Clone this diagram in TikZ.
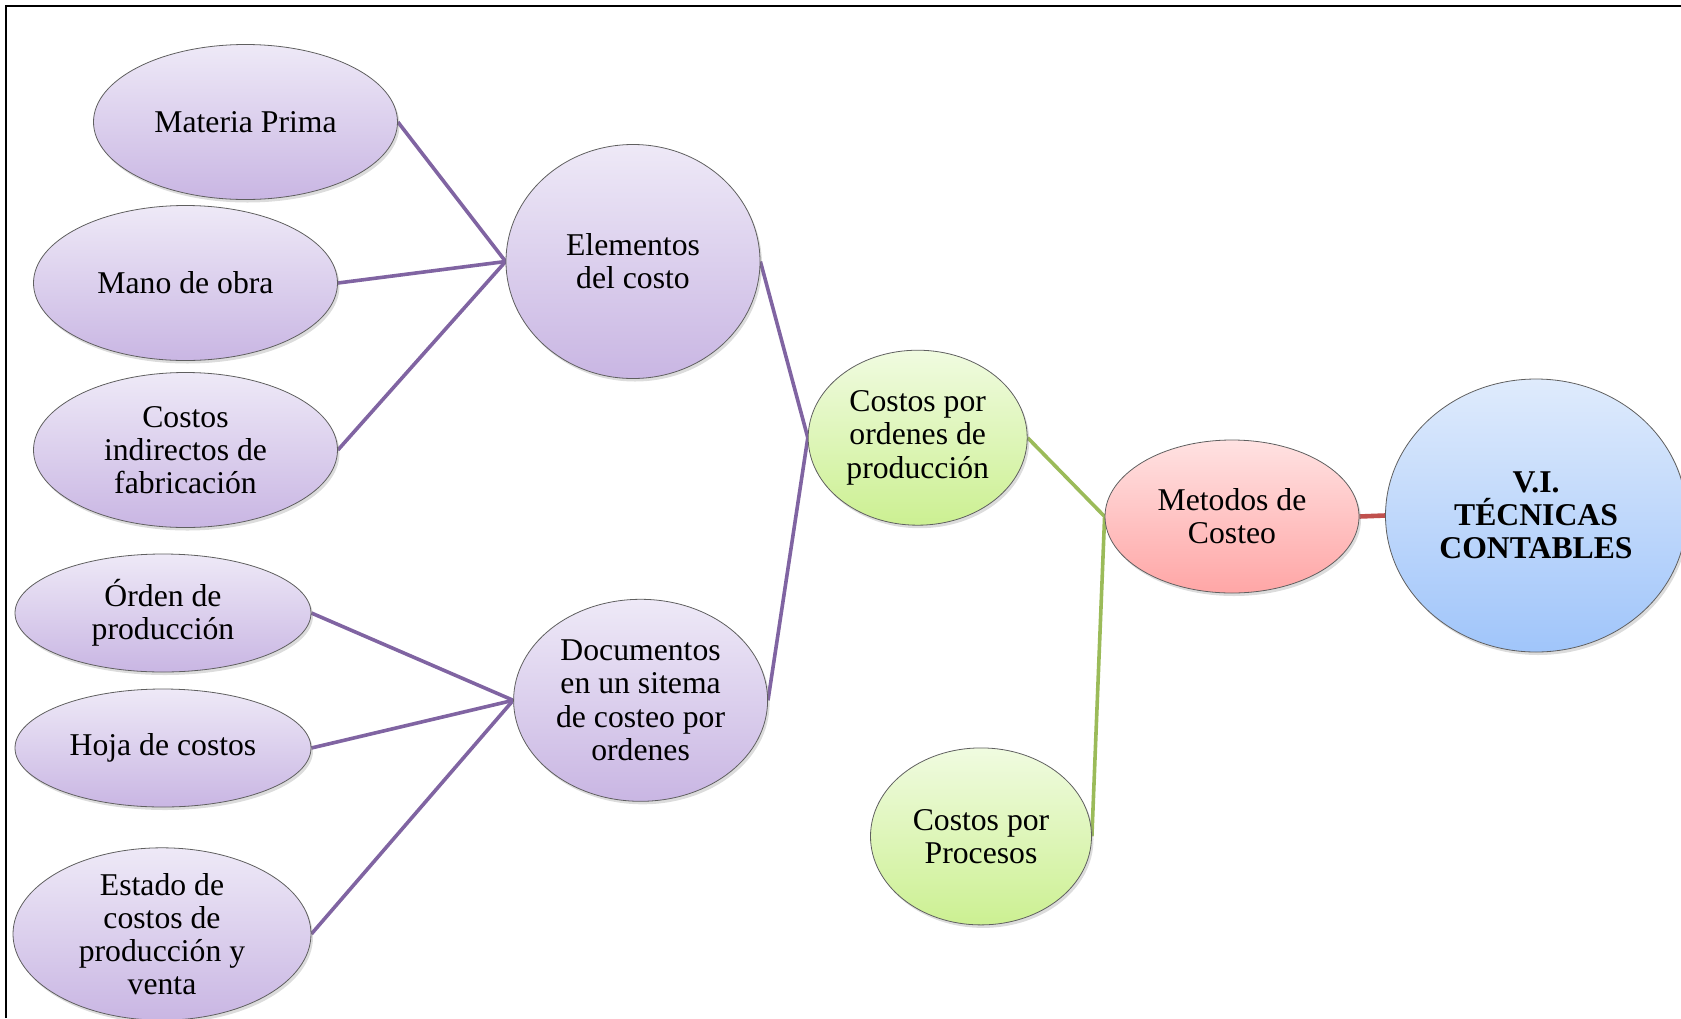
\documentclass[tikz,border=0pt]{standalone}
\usepackage{fontspec}
\setmainfont{Liberation Serif}
\usetikzlibrary{shapes.geometric,shadows,backgrounds}

\definecolor{purpleTop}{RGB}{238,233,247}
\definecolor{purpleBot}{RGB}{201,182,227}
\definecolor{greenTop}{RGB}{240,251,224}
\definecolor{greenBot}{RGB}{204,240,146}
\definecolor{redTop}{RGB}{255,226,226}
\definecolor{redBot}{RGB}{255,166,166}
\definecolor{blueTop}{RGB}{223,235,252}
\definecolor{blueBot}{RGB}{160,197,250}
\definecolor{linkPurple}{RGB}{128,100,162}
\definecolor{linkGreen}{RGB}{155,187,89}
\definecolor{linkRed}{RGB}{192,80,77}
\definecolor{rimGray}{RGB}{95,95,95}

\tikzset{
  bubble/.style={ellipse, draw=rimGray, line width=0.8pt, inner sep=0pt,
    align=center, font=\fontsize{31.7}{33.2}\selectfont,
    drop shadow={opacity=0.28, shadow xshift=2pt, shadow yshift=-3pt}},
  lilac/.style={bubble, top color=purpleTop, bottom color=purpleBot},
  lime/.style={bubble, top color=greenTop, bottom color=greenBot},
  rose/.style={bubble, top color=redTop, bottom color=redBot},
  sky/.style={bubble, top color=blueTop, bottom color=blueBot},
  plink/.style={draw=linkPurple, line width=3.6pt},
  glink/.style={draw=linkGreen, line width=3.6pt},
  rlink/.style={draw=linkRed, line width=4.6pt}
}

\begin{document}
\begin{tikzpicture}[x=1pt, y=-1pt]
\useasboundingbox (0,0) rectangle (1681,1018);

% frame lines along the top and left
\draw[line width=2.6pt, black] (6,1018) -- (6,6) -- (1681,6);

% cost elements
\node[lilac, minimum width=304pt, minimum height=155pt] (mp) at (245.5,122) {Materia Prima};
\node[lilac, minimum width=304pt, minimum height=155pt] (mo) at (185.5,283) {Mano de obra};
\node[lilac, minimum width=304pt, minimum height=155pt] (ci) at (185.5,450) {Costos\\indirectos de\\fabricación};
\node[lilac, minimum width=254pt, minimum height=234pt] (el) at (633,261.5) {Elementos\\del costo};

% documents of the job order system
\node[lilac, minimum width=296pt, minimum height=118pt] (od) at (163,613) {Órden de\\producción};
\node[lilac, minimum width=296pt, minimum height=118pt] (hc) at (163,748) {Hoja de costos};
\node[lilac, minimum width=298pt, minimum height=165pt] (ec) at (162,934) {Estado de\\costos de\\producción y\\venta};
\node[lilac, minimum width=254pt, minimum height=202pt] (dc) at (640.6,700.3) {Documentos\\en un sitema\\de costeo por\\ordenes};

% costing methods
\node[lime, minimum width=219pt, minimum height=175pt] (co) at (917.7,437.7) {Costos por\\ordenes de\\producción};
\node[lime, minimum width=221pt, minimum height=177pt] (cp) at (981,836.4) {Costos por\\Procesos};
\node[rose, minimum width=254pt, minimum height=153pt] (mc) at (1232,516.5) {Metodos de\\Costeo};
\node[sky, minimum width=301pt, minimum height=273pt, font=\fontsize{31.7}{33.2}\selectfont\bfseries] (vi) at (1536,515.5) {V.I.\\TÉCNICAS\\CONTABLES};

\begin{scope}[on background layer]
  \draw[plink] (mp.east) -- (el.west);
  \draw[plink] (mo.east) -- (el.west);
  \draw[plink] (ci.east) -- (el.west);
  \draw[plink] (od.east) -- (dc.west);
  \draw[plink] (hc.east) -- (dc.west);
  \draw[plink] (ec.east) -- (dc.west);
  \draw[plink] (el.east) -- (co.west);
  \draw[plink] (dc.east) -- (co.west);
  \draw[glink] (co.east) -- (mc.west);
  \draw[glink] (cp.east) -- (mc.west);
  \draw[rlink] (mc.east) -- (vi.west);
\end{scope}
\end{tikzpicture}
\end{document}
